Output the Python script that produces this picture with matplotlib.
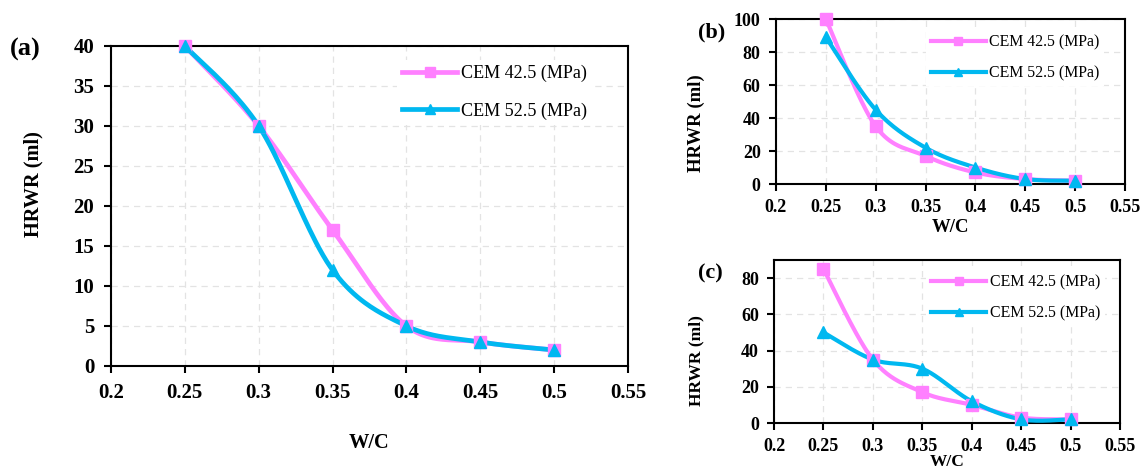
import numpy as np
import matplotlib
matplotlib.use("Agg")
import matplotlib.pyplot as plt
from matplotlib.lines import Line2D

plt.rcParams['font.family'] = ['Liberation Serif', 'DejaVu Serif']

wc = [0.25, 0.3, 0.35, 0.4, 0.45, 0.5]

a_425 = [40, 30, 17, 5, 3, 2]
a_525 = [40, 30, 12, 5, 3, 2]
b_425 = [100, 35, 17, 7, 3, 2]
b_525 = [89, 45, 22, 10, 3, 2]
c_425 = [85, 35, 17, 10, 3, 2]
c_525 = [50, 35, 30, 12, 2, 2]

series_names = ["CEM 42.5 (MPa)", "CEM 52.5 (MPa)"]
pink = "#FF80FF"
cyan = "#00B8F0"


def smooth(x, y, n=40):
    x = np.asarray(x, float)
    y = np.asarray(y, float)
    px = np.concatenate([[x[0]], x, [x[-1]]])
    py = np.concatenate([[y[0]], y, [y[-1]]])
    xs, ys = [], []
    t = np.linspace(0, 1, n)
    for i in range(1, len(px) - 2):
        p0 = np.array([px[i], py[i]])
        p3 = np.array([px[i + 1], py[i + 1]])
        c1 = p0 + (np.array([px[i + 1], py[i + 1]]) - np.array([px[i - 1], py[i - 1]])) / 6
        c2 = p3 - (np.array([px[i + 2], py[i + 2]]) - np.array([px[i], py[i]])) / 6
        pts = ((1 - t)[:, None] ** 3 * p0 + 3 * ((1 - t) ** 2 * t)[:, None] * c1
               + 3 * ((1 - t) * t ** 2)[:, None] * c2 + (t ** 3)[:, None] * p3)
        xs.extend(pts[:, 0])
        ys.extend(pts[:, 1])
    return xs, ys


fig = plt.figure(figsize=(11.43, 4.70), dpi=100)

specs = [
    dict(rect=[0.0971, 0.2213, 0.4523, 0.6809], d=(a_425, a_525), ylim=(0, 40), yt=np.arange(0, 41, 5),
         tick=15, pad=7, lab=14.7, leg=13.1, ms=9, lms=7, lw=3.4, tag="(a)", tagfs=19,
         tagpos=(0.0087, 0.894), xlab=(0.5, -0.21), ylab=(-0.1315, 0.57),
         legloc=(0.553, 0.855), hl=3.0, hp=0.22, ls=1.1),
    dict(rect=[0.6789, 0.6085, 0.3053, 0.351], d=(b_425, b_525), ylim=(0, 100), yt=np.arange(0, 101, 20),
         tick=13, pad=6, lab=13.5, leg=11.4, ms=8, lms=6, lw=3.0, tag="(b)", tagfs=16,
         tagpos=(0.6107, 0.93), xlab=(0.5, -0.215), ylab=(-0.203, 0.37),
         legloc=(0.43, 0.764), hl=3.5, hp=0.2, ls=0.92),
    dict(rect=[0.6772, 0.1, 0.3027, 0.3468], d=(c_425, c_525), ylim=(0, 90), yt=np.arange(0, 81, 20),
         tick=13, pad=6, lab=12.5, leg=11.4, ms=8, lms=6, lw=3.0, tag="(c)", tagfs=16,
         tagpos=(0.6107, 0.419), xlab=(0.5, -0.19), ylab=(-0.2, 0.386),
         legloc=(0.44, 0.767), hl=3.5, hp=0.2, ls=0.92),
]

for s in specs:
    ax = fig.add_axes(s["rect"])
    y1, y2 = s["d"]
    for yv, col, mk in ((y1, pink, "s"), (y2, cyan, "^")):
        sx, sy = smooth(wc, yv)
        ax.plot(sx, sy, color=col, lw=s["lw"], solid_capstyle="round", zorder=3, clip_on=False)
        ax.plot(wc, yv, ls="none", marker=mk, ms=s["ms"], color=col, zorder=4, clip_on=False)
    ax.set_xlim(0.2, 0.55)
    ax.set_ylim(*s["ylim"])
    ax.set_xticks([0.2, 0.25, 0.3, 0.35, 0.4, 0.45, 0.5, 0.55])
    ax.set_xticklabels(["0.2", "0.25", "0.3", "0.35", "0.4", "0.45", "0.5", "0.55"])
    ax.set_yticks(s["yt"])
    ax.grid(True, ls=(0, (5, 4)), color="#e3e3e3", lw=0.9, zorder=0)
    ax.set_axisbelow(True)
    for sp in ax.spines.values():
        sp.set_linewidth(1.5)
        sp.set_color("black")
    ax.tick_params(direction="out", length=5, width=1.5, labelsize=s["tick"], pad=s["pad"])
    for lbl in ax.get_xticklabels() + ax.get_yticklabels():
        lbl.set_fontweight("bold")
    ax.set_ylabel("HRWR (ml)", fontsize=s["lab"], fontweight="bold")
    ax.yaxis.set_label_coords(*s["ylab"])
    ax.set_xlabel("W/C", fontsize=s["lab"], fontweight="bold")
    ax.xaxis.set_label_coords(*s["xlab"])
    handles = [Line2D([], [], color=pink, lw=s["lw"], marker="s", ms=s["lms"]),
               Line2D([], [], color=cyan, lw=s["lw"], marker="^", ms=s["lms"])]
    leg = ax.legend(handles, series_names, loc="center left", bbox_to_anchor=s["legloc"], frameon=True,
                    fontsize=s["leg"], handlelength=s["hl"], labelspacing=s["ls"], handletextpad=s["hp"],
                    borderpad=0.3, borderaxespad=0, fancybox=False)
    leg.get_frame().set_facecolor("white")
    leg.get_frame().set_edgecolor("none")
    leg.get_frame().set_alpha(1)
    leg.set_zorder(5)
    fig.text(s["tagpos"][0], s["tagpos"][1], s["tag"], fontsize=s["tagfs"], fontweight="bold",
             ha="left", va="center")

fig.savefig("out.png", dpi=100)
